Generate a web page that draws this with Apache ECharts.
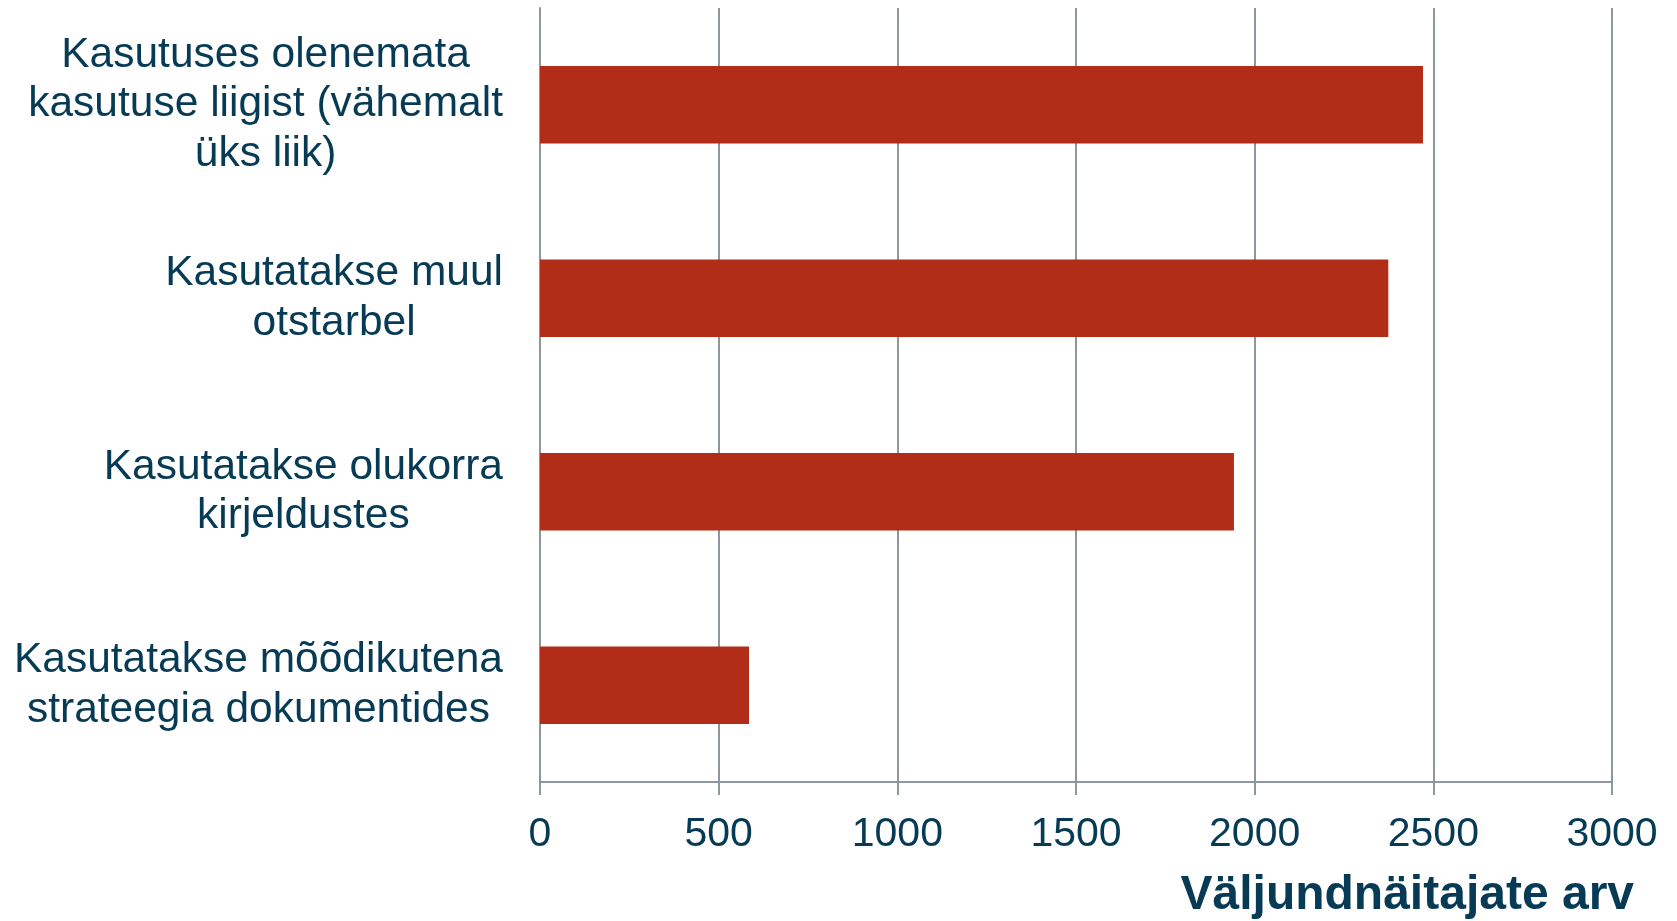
<!DOCTYPE html>
<html>
<head>
<meta charset="utf-8">
<script src="https://cdn.jsdelivr.net/npm/echarts@6/dist/echarts.min.js"></script>
<style>
html,body{margin:0;padding:0;background:#fff;}
#chart{width:1677px;height:921px;}
</style>
</head>
<body>
<div id="chart"></div>
<script>
const categories = [
  "Kasutuses olenemata\nkasutuse liigist (vähemalt\nüks liik)",
  "Kasutatakse muul\notstarbel",
  "Kasutatakse olukorra\nkirjeldustes",
  "Kasutatakse mõõdikutena\nstrateegia dokumentides"
];
const values = [2471, 2374, 1942, 585];
const xTicks = [0, 500, 1000, 1500, 2000, 2500, 3000];
const axisTitle = "Väljundnäitajate arv";

const textColor = '#073b55';
const gridColor = '#8f979e';

const chart = echarts.init(document.getElementById('chart'));
chart.setOption({
  animation: false,
  backgroundColor: '#ffffff',
  title: {
    text: axisTitle,
    right: 43,
    top: 872,
    padding: 0,
    textStyle: {
      fontFamily: 'Liberation Sans, Arial, sans-serif',
      fontWeight: 'bold',
      fontSize: 48,
      color: textColor
    }
  },
  grid: { left: 540, right: 65, top: 8, bottom: 139 },
  xAxis: {
    type: 'value',
    min: xTicks[0],
    max: xTicks[xTicks.length - 1],
    interval: xTicks[1] - xTicks[0],
    axisLine: { show: true, lineStyle: { color: gridColor, width: 2 } },
    axisTick: { show: true, length: 13, lineStyle: { color: gridColor, width: 2 } },
    splitLine: { show: true, lineStyle: { color: gridColor, width: 2 } },
    axisLabel: {
      margin: 32,
      fontFamily: 'Liberation Sans, Arial, sans-serif',
      fontSize: 41,
      color: textColor,
      formatter: function (v) { return String(v); }
    }
  },
  yAxis: {
    type: 'category',
    inverse: true,
    data: categories,
    axisLine: { show: true, lineStyle: { color: gridColor, width: 2 } },
    axisTick: { show: false },
    splitLine: { show: false },
    axisLabel: {
      margin: 37,
      align: 'right',
      formatter: function (v) {
        return v.split('\n').map(function (l) { return '{c|' + l + '}'; }).join('\n');
      },
      rich: {
        c: {
          align: 'center',
          fontFamily: 'Liberation Sans, Arial, sans-serif',
          fontSize: 42.5,
          lineHeight: 49.5,
          color: textColor
        }
      }
    }
  },
  series: [{
    type: 'bar',
    data: values,
    barWidth: '40%',
    itemStyle: { color: '#b12d17' }
  }]
});
</script>
</body>
</html>
